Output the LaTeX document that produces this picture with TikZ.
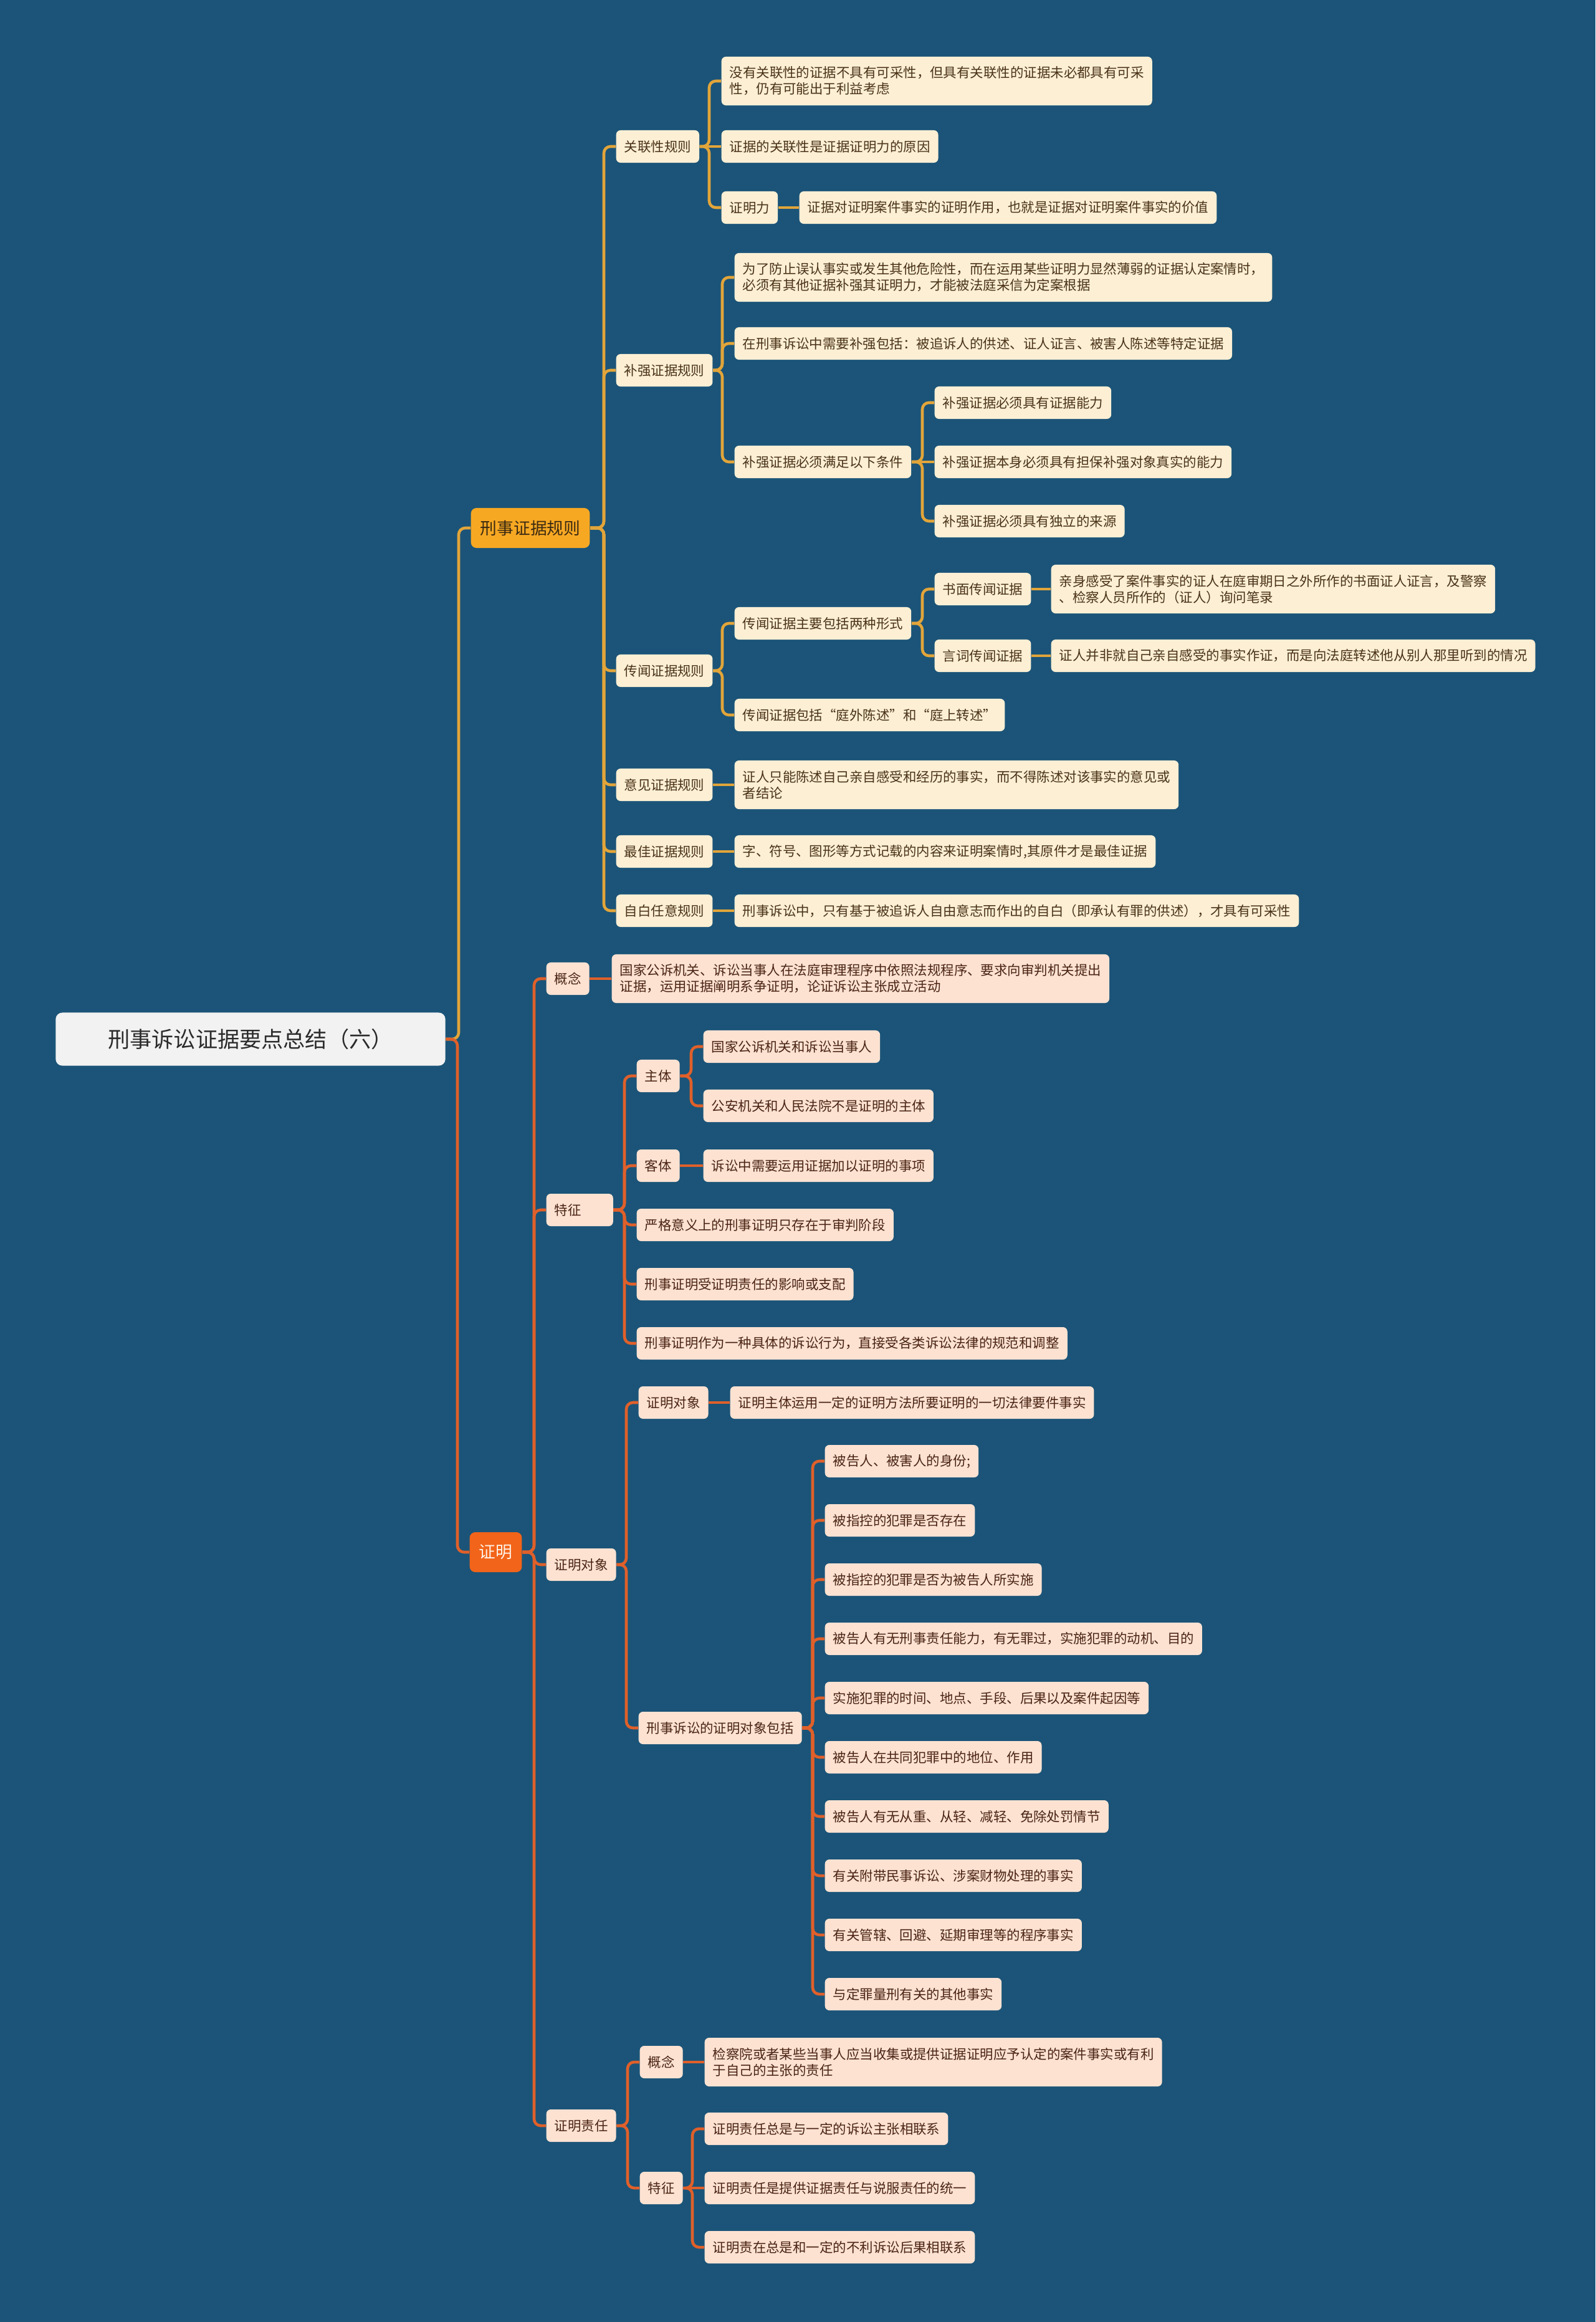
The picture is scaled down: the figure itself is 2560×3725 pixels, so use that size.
\documentclass[tikz,border=0pt]{standalone}
\usepackage{fontspec}
\setmainfont{Noto Sans CJK SC}
\usepackage{tikz}

\definecolor{bgblue}{HTML}{1B5478}
\definecolor{gold}{HTML}{E2A53A}
\definecolor{xzfill}{HTML}{F7A823}
\definecolor{xztext}{HTML}{3B2A12}
\definecolor{gleaf}{HTML}{FCEFD4}
\definecolor{gtext}{HTML}{4A3318}
\definecolor{orng}{HTML}{E0602A}
\definecolor{zmfill}{HTML}{F26419}
\definecolor{zmtext}{HTML}{FFF3E8}
\definecolor{pleaf}{HTML}{FDE2D2}
\definecolor{ptext}{HTML}{4A2414}
\definecolor{rootfill}{HTML}{F2F2F2}
\definecolor{roottext}{HTML}{2B2B2B}

\begin{document}
\begin{tikzpicture}[x=0.01cm, y=-0.01cm,
  gbox/.style={anchor=west, align=left, fill=gleaf, text=gtext, rounded corners=2pt,
    inner xsep=3.7pt, inner ysep=2pt, minimum height=0.52cm, font=\fontsize{6.1}{7.4}\selectfont},
  pbox/.style={gbox, fill=pleaf, text=ptext},
  tall/.style={minimum height=0.78cm},
  mainbox/.style={anchor=west, rounded corners=2.5pt, inner xsep=4.3pt, minimum height=0.64cm,
    font=\fontsize{7.6}{9}\selectfont},
  gline/.style={draw=gold, line width=1.3pt, rounded corners=3pt},
  pline/.style={draw=orng, line width=1.3pt, rounded corners=3pt},
  fork/.style={to path={(\tikztotarget.west) -- ++(-19,0) |- (\tikztostart.east)}}]

\fill[bgblue] (0,0) rectangle (2560,3725);
\useasboundingbox (0,0) rectangle (2560,3725);

% root and main branches
\node[fill=rootfill, text=roottext, rounded corners=3pt, minimum width=6.25cm, minimum height=0.85cm,
  font=\fontsize{10}{12}\selectfont] (root) at (402,1667) {刑事诉讼证据要点总结（六）};
\node[mainbox, fill=xzfill, text=xztext] (xz) at (755,847) {刑事证据规则};
\node[mainbox, fill=zmfill, text=zmtext] (zm) at (753,2490) {证明};

% 刑事证据规则
\node[gbox] (gl) at (988,235) {关联性规则};
\node[gbox,tall] (gl1) at (1157,130) {没有关联性的证据不具有可采性，但具有关联性的证据未必都具有可采\\性，仍有可能出于利益考虑};
\node[gbox] (gl2) at (1157,235) {证据的关联性是证据证明力的原因};
\node[gbox] (gl3) at (1157,333) {证明力};
\node[gbox] (gl3a) at (1282,333) {证据对证明案件事实的证明作用，也就是证据对证明案件事实的价值};

\node[gbox] (bq) at (988,594) {补强证据规则};
\node[gbox,tall] (bq1) at (1178,445) {为了防止误认事实或发生其他危险性，而在运用某些证明力显然薄弱的证据认定案情时，\\必须有其他证据补强其证明力，才能被法庭采信为定案根据};
\node[gbox] (bq2) at (1178,551) {在刑事诉讼中需要补强包括：被追诉人的供述、证人证言、被害人陈述等特定证据};
\node[gbox] (bq3) at (1178,741) {补强证据必须满足以下条件};
\node[gbox] (bq3a) at (1499,646) {补强证据必须具有证据能力};
\node[gbox] (bq3b) at (1499,741) {补强证据本身必须具有担保补强对象真实的能力};
\node[gbox] (bq3c) at (1499,836) {补强证据必须具有独立的来源};

\node[gbox] (cw) at (988,1076) {传闻证据规则};
\node[gbox] (cw1) at (1178,1000) {传闻证据主要包括两种形式};
\node[gbox] (cw1a) at (1499,945) {书面传闻证据};
\node[gbox,tall] (cw1a1) at (1686,945) {亲身感受了案件事实的证人在庭审期日之外所作的书面证人证言，及警察\\、检察人员所作的（证人）询问笔录};
\node[gbox] (cw1b) at (1499,1052) {言词传闻证据};
\node[gbox] (cw1b1) at (1686,1052) {证人并非就自己亲自感受的事实作证，而是向法庭转述他从别人那里听到的情况};
\node[gbox] (cw2) at (1178,1147) {传闻证据包括“庭外陈述”和“庭上转述”};

\node[gbox] (yj) at (988,1259) {意见证据规则};
\node[gbox,tall] (yj1) at (1178,1259) {证人只能陈述自己亲自感受和经历的事实，而不得陈述对该事实的意见或\\者结论};
\node[gbox] (zj) at (988,1366) {最佳证据规则};
\node[gbox] (zj1) at (1178,1366) {字、符号、图形等方式记载的内容来证明案情时,其原件才是最佳证据};
\node[gbox] (zb) at (988,1461) {自白任意规则};
\node[gbox] (zb1) at (1178,1461) {刑事诉讼中，只有基于被追诉人自由意志而作出的自白（即承认有罪的供述），才具有可采性};

% 证明
\node[pbox] (gn) at (876,1570) {概念};
\node[pbox,tall] (gn1) at (981,1570) {国家公诉机关、诉讼当事人在法庭审理程序中依照法规程序、要求向审判机关提出\\证据，运用证据阐明系争证明，论证诉讼主张成立活动};

\node[pbox, text width=0.81cm] (tz) at (876,1941) {特征};
\node[pbox] (tz1) at (1021,1726) {主体};
\node[pbox] (tz1a) at (1128,1679) {国家公诉机关和诉讼当事人};
\node[pbox] (tz1b) at (1128,1774) {公安机关和人民法院不是证明的主体};
\node[pbox] (tz2) at (1021,1870) {客体};
\node[pbox] (tz2a) at (1128,1870) {诉讼中需要运用证据加以证明的事项};
\node[pbox] (tz3) at (1021,1965) {严格意义上的刑事证明只存在于审判阶段};
\node[pbox] (tz4) at (1021,2060) {刑事证明受证明责任的影响或支配};
\node[pbox] (tz5) at (1021,2155) {刑事证明作为一种具体的诉讼行为，直接受各类诉讼法律的规范和调整};

\node[pbox] (dx) at (876,2510) {证明对象};
\node[pbox] (dx1) at (1024,2250) {证明对象};
\node[pbox] (dx1a) at (1171,2250) {证明主体运用一定的证明方法所要证明的一切法律要件事实};
\node[pbox] (dx2) at (1024,2772) {刑事诉讼的证明对象包括};
\node[pbox] (dx2a) at (1323,2344) {被告人、被害人的身份;};
\node[pbox] (dx2b) at (1323,2439) {被指控的犯罪是否存在};
\node[pbox] (dx2c) at (1323,2534) {被指控的犯罪是否为被告人所实施};
\node[pbox] (dx2d) at (1323,2629) {被告人有无刑事责任能力，有无罪过，实施犯罪的动机、目的};
\node[pbox] (dx2e) at (1323,2724) {实施犯罪的时间、地点、手段、后果以及案件起因等};
\node[pbox] (dx2f) at (1323,2819) {被告人在共同犯罪中的地位、作用};
\node[pbox] (dx2g) at (1323,2914) {被告人有无从重、从轻、减轻、免除处罚情节};
\node[pbox] (dx2h) at (1323,3009) {有关附带民事诉讼、涉案财物处理的事实};
\node[pbox] (dx2i) at (1323,3104) {有关管辖、回避、延期审理等的程序事实};
\node[pbox] (dx2j) at (1323,3199) {与定罪量刑有关的其他事实};

\node[pbox] (zr) at (876,3410) {证明责任};
\node[pbox] (zr1) at (1026,3308) {概念};
\node[pbox,tall] (zr1a) at (1130,3308) {检察院或者某些当事人应当收集或提供证据证明应予认定的案件事实或有利\\于自己的主张的责任};
\node[pbox] (zr2) at (1026,3510) {特征};
\node[pbox] (zr2a) at (1130,3415) {证明责任总是与一定的诉讼主张相联系};
\node[pbox] (zr2b) at (1130,3510) {证明责任是提供证据责任与说服责任的统一};
\node[pbox] (zr2c) at (1130,3605) {证明责在总是和一定的不利诉讼后果相联系};

\path[gline]
(root) edge[fork] (xz)
(xz) edge[fork] (gl) edge[fork] (bq) edge[fork] (cw)
     edge[fork] (yj) edge[fork] (zj) edge[fork] (zb)
(gl) edge[fork] (gl1) edge (gl2) edge[fork] (gl3)
(gl3) edge (gl3a)
(bq) edge[fork] (bq1) edge[fork] (bq2) edge[fork] (bq3)
(bq3) edge[fork] (bq3a) edge (bq3b) edge[fork] (bq3c)
(cw) edge[fork] (cw1) edge[fork] (cw2)
(cw1) edge[fork] (cw1a) edge[fork] (cw1b)
(cw1a) edge (cw1a1)
(cw1b) edge (cw1b1)
(yj) edge (yj1)
(zj) edge (zj1)
(zb) edge (zb1)
;
\path[pline]
(root) edge[fork] (zm)
(zm) edge[fork] (gn) edge[fork] (tz) edge[fork] (dx) edge[fork] (zr)
(gn) edge (gn1)
(tz) edge[fork] (tz1) edge[fork] (tz2) edge[fork] (tz3) edge[fork] (tz4) edge[fork] (tz5)
(tz1) edge[fork] (tz1a) edge[fork] (tz1b)
(tz2) edge (tz2a)
(dx) edge[fork] (dx1) edge[fork] (dx2)
(dx1) edge (dx1a)
(dx2) edge[fork] (dx2a) edge[fork] (dx2b) edge[fork] (dx2c) edge[fork] (dx2d) edge[fork] (dx2e)
      edge[fork] (dx2f) edge[fork] (dx2g) edge[fork] (dx2h) edge[fork] (dx2i) edge[fork] (dx2j)
(zr) edge[fork] (zr1) edge[fork] (zr2)
(zr1) edge (zr1a)
(zr2) edge[fork] (zr2a) edge (zr2b) edge[fork] (zr2c)
;
\end{tikzpicture}
\end{document}
